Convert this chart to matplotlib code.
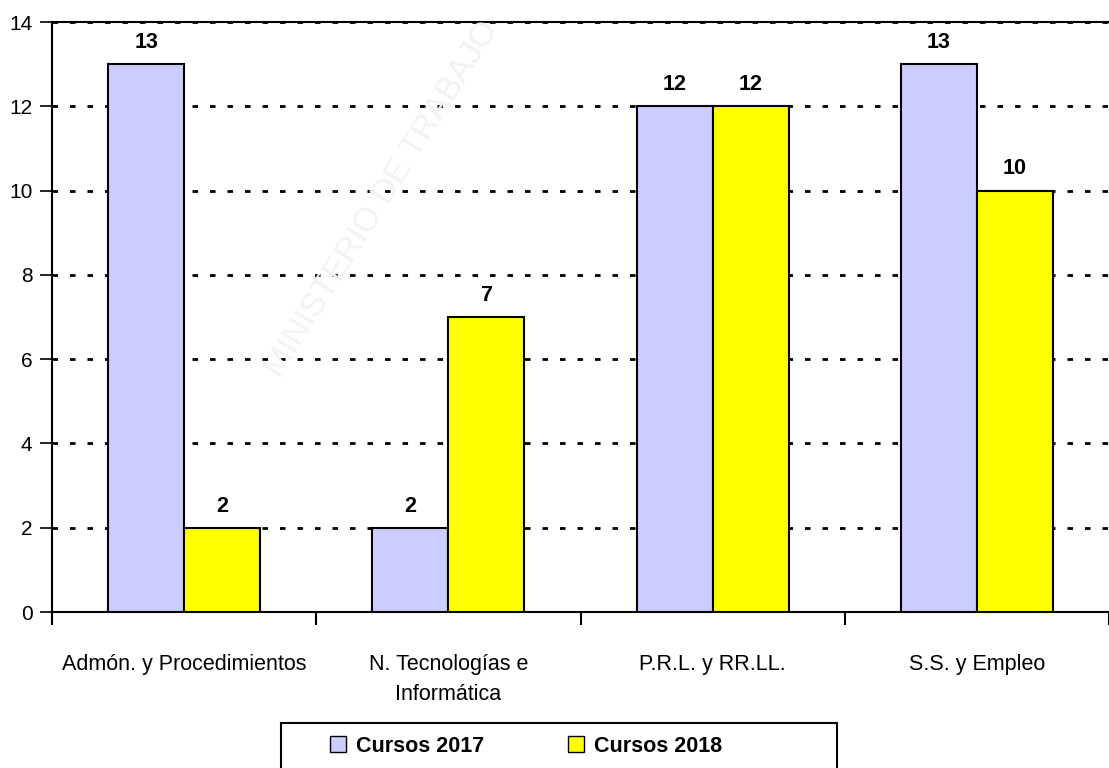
import numpy as np
import matplotlib.pyplot as plt
from matplotlib.patches import Rectangle

# cursos por area, 2017 vs 2018
categories = ["Admón. y Procedimientos", "N. Tecnologías e\nInformática", "P.R.L. y RR.LL.", "S.S. y Empleo"]
cursos_2017 = [13, 2, 12, 13]
cursos_2018 = [2, 7, 12, 10]
yticks = [0, 2, 4, 6, 8, 10, 12, 14]

plt.rcParams['font.family'] = ['Liberation Sans', 'DejaVu Sans']

fig = plt.figure(figsize=(11.09, 7.68), dpi=100)
ax = fig.add_axes([52/1109, 156/768, 1057/1109, 590/768])

x = np.arange(len(categories))
w = 0.288
b1 = ax.bar(x - w/2, cursos_2017, w, color="#CCCCFF", edgecolor="black", linewidth=1.5, label="Cursos 2017", zorder=3)
b2 = ax.bar(x + w/2, cursos_2018, w, color="#FFFF00", edgecolor="black", linewidth=1.5, label="Cursos 2018", zorder=3)
for bars in (b1, b2):
	ax.bar_label(bars, padding=8, fontsize=15.5, fontweight="bold")

ax.set_xlim(-0.5, len(categories) - 0.5)
ax.set_ylim(0, 14)
ax.set_yticks(yticks)
ax.tick_params(axis="y", labelsize=15, length=9, width=1.2, pad=5)
ax.set_xticks(x)
ax.set_xticklabels(categories, linespacing=1.6)
ax.tick_params(axis="x", which="major", length=0, labelsize=15.5, pad=30)
ax.set_xticks(np.arange(-0.5, len(categories), 1.0), minor=True)
ax.tick_params(axis="x", which="minor", length=9, width=1.5)

ax.yaxis.grid(True, color="black", linestyle=(0, (2, 4.3)), linewidth=2, zorder=0)
ax.spines["right"].set_visible(False)
for s in ["left", "bottom", "top"]:
	ax.spines[s].set_linewidth(1.5)

# marca de agua
fig.text(0.345, 0.74, "MINISTERIO DE TRABAJO", rotation=58, fontsize=24, color="#f3f3f3",
	ha="center", va="center", zorder=0)

# marco de la leyenda (Excel deja mas hueco a la derecha)
fig.patches.append(Rectangle((281/1109, -0.05), 556/1109, 1.05 - 723/768,
	transform=fig.transFigure, fill=False, edgecolor="black", linewidth=1.5))

leg = fig.legend(loc="center left", bbox_to_anchor=(319/1109, 1 - 746/768), ncol=2,
	frameon=False, handlelength=0.75, handleheight=0.75, handletextpad=0.45,
	columnspacing=3.9, borderpad=0, prop={"size": 15.5, "weight": "bold"})
for h in leg.legend_handles:
	h.set_linewidth(1)

fig.savefig("out.png", dpi=100)
